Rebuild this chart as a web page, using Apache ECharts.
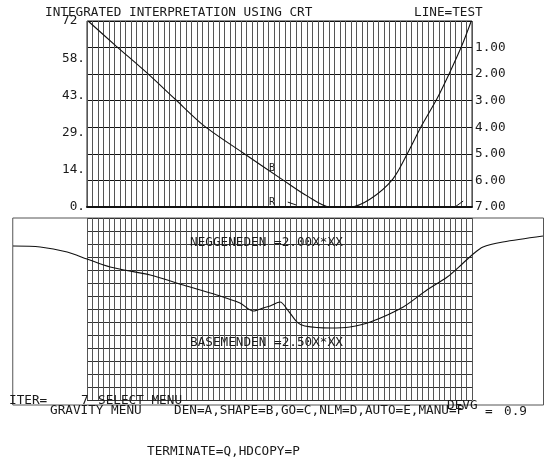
<!DOCTYPE html>
<html>
<head>
<meta charset="utf-8">
<script src="https://cdn.jsdelivr.net/npm/echarts@6/dist/echarts.min.js"></script>
<style>
html,body{margin:0;padding:0;background:#fff;}
#c{width:552px;height:457px;}
</style>
</head>
<body>
<div id="c"></div>
<script>
// ---- data ----
// top panel: misfit curve (x = model step, y = misfit, left scale 0..72)
const topX = [0.2, 5.3, 10.9, 16.0, 21.3, 28.4, 35.6, 40.0, 44.2, 47.8, 51.5, 55.6, 58.4, 60.9, 63.6, 66.0, 68.2, 69.8];
const topY = [72.0, 62.3, 51.9, 41.8, 31.4, 20.9, 10.5, 4.3, 0, 0, 3.1, 10.8, 21.3, 31.7, 41.8, 52.3, 62.7, 71.6];
// short marks near the bottom of the top panel
const markAX = [36.5, 38.0];
const markAY = [1.9, 0.8];
const markBX = [66.9, 68.4];
const markBY = [0, 2.3];
// lower panel: gravity profile
const lowX = [-13.45, -8.5, -3.6, 0, 4.2, 11.5, 17.5, 23.6, 27.8, 30.2, 32.0, 33.3, 35.1, 36.5, 38.2, 39.6, 44.2, 47.8, 51.5, 57.5, 61.8, 65.5, 68.4, 70.0, 72.0, 75.6, 82.9];
const lowY = [11.90, 11.83, 11.45, 10.93, 10.33, 9.73, 8.98, 8.24, 7.64, 7.04, 7.26, 7.41, 7.71, 7.11, 6.21, 5.91, 5.76, 5.84, 6.21, 7.34, 8.61, 9.58, 10.63, 11.23, 11.83, 12.20, 12.65];
// tick labels
const leftTickLabels = ['0.', '14.', '29.', '43.', '58.', '72 '];
const rightTickLabels = ['', '1.00', '2.00', '3.00', '4.00', '5.00', '6.00', '7.00'];

const zip = (a, b) => a.map((v, i) => [v, b[i]]);
const FONT = 'DejaVu Sans Mono';
const FS = 12.7;
const INK = '#1a1a1a';

const chart = echarts.init(document.getElementById('c'), null, {renderer: 'canvas'});

function txt(text, x, y, size, extra) {
  return Object.assign({
    type: 'text', x: x, y: y, z: 100,
    style: {text: text, fill: INK, font: (size || FS) + 'px "' + FONT + '"', textVerticalAlign: 'middle', textAlign: 'left'}
  }, extra || {});
}

const option = {
  animation: false,
  backgroundColor: '#fff',
  grid: [
    {left: 87, top: 21, width: 385, height: 186, show: true, borderColor: '#222', borderWidth: 1, backgroundColor: 'transparent'},
    {left: 12.75, top: 218, width: 530.75, height: 187, show: true, borderColor: '#555', borderWidth: 1, backgroundColor: 'transparent'},
    {left: 87, top: 218, width: 385, height: 182, show: false}
  ],
  xAxis: [
    {type: 'value', gridIndex: 0, min: 0, max: 70, interval: 1,
      axisLabel: {show: false}, axisTick: {show: false},
      axisLine: {show: true, lineStyle: {color: '#111', width: 2}},
      splitLine: {show: true, lineStyle: {color: '#555', width: 1}}},
    {type: 'value', gridIndex: 1, min: -13.5, max: 83, show: false, splitLine: {show: false}},
    {type: 'value', gridIndex: 2, min: 0, max: 70, interval: 1,
      axisLabel: {show: false}, axisTick: {show: false},
      axisLine: {show: false},
      splitLine: {show: true, lineStyle: {color: '#555', width: 1}}}
  ],
  yAxis: [
    {type: 'value', gridIndex: 0, min: 0, max: 72, interval: 14.4, position: 'left',
      axisLine: {show: false}, axisTick: {show: false}, splitLine: {show: false},
      axisLabel: {show: true, margin: 2, color: INK, fontFamily: FONT, fontSize: FS,
        formatter: v => leftTickLabels[Math.round(v / 14.4)] || ''}},
    {type: 'value', gridIndex: 0, min: 0, max: 7, interval: 1, position: 'right', inverse: true,
      axisLine: {show: false}, axisTick: {show: false},
      splitLine: {show: true, lineStyle: {color: '#111', width: 1}},
      axisLabel: {show: true, margin: 3, color: INK, fontFamily: FONT, fontSize: FS,
        formatter: v => rightTickLabels[Math.round(v)] || ''}},
    {type: 'value', gridIndex: 1, min: 0, max: 14, show: false, splitLine: {show: false}},
    {type: 'value', gridIndex: 2, min: 0, max: 14, interval: 1,
      axisLabel: {show: false}, axisTick: {show: false}, axisLine: {show: false},
      splitLine: {show: true, lineStyle: {color: '#333', width: 1}}}
  ],
  series: [
    {type: 'line', xAxisIndex: 0, yAxisIndex: 0, data: zip(topX, topY), symbol: 'none', smooth: 0.3,
      lineStyle: {color: '#111', width: 1.1}, z: 5},
    {type: 'line', xAxisIndex: 0, yAxisIndex: 0, data: zip(markAX, markAY), symbol: 'none',
      lineStyle: {color: '#111', width: 1}, z: 5},
    {type: 'line', xAxisIndex: 0, yAxisIndex: 0, data: zip(markBX, markBY), symbol: 'none',
      lineStyle: {color: '#111', width: 1}, z: 5},
    {type: 'line', xAxisIndex: 1, yAxisIndex: 2, data: zip(lowX, lowY), symbol: 'none', smooth: 0.3,
      lineStyle: {color: '#111', width: 1.1}, z: 5},
    {type: 'line', xAxisIndex: 2, yAxisIndex: 3, data: [], symbol: 'none'}
  ],
  graphic: [
    txt('INTEGRATED INTERPRETATION USING CRT', 45, 13),
    txt('LINE=TEST', 414, 13),
    txt('B', 269, 168, 10),
    txt('R', 269, 202, 10),
    txt('NEGGENEDEN =2.00X*XX', 190, 243),
    txt('BASEMENDEN =2.50X*XX', 190, 343),
    txt('ITER=', 9, 401),
    txt('7', 81, 401),
    txt('SELECT MENU', 98, 401),
    txt('GRAVITY MENU', 50, 411),
    txt('DEN=A,SHAPE=B,GO=C,NLM=D,AUTO=E,MANU=P', 174, 411),
    txt('DEVG', 447, 406),
    txt('=', 485, 412),
    txt('0.9', 504, 412),
    txt('TERMINATE=Q,HDCOPY=P', 147, 452)
  ]
};
chart.setOption(option);
</script>
</body>
</html>
